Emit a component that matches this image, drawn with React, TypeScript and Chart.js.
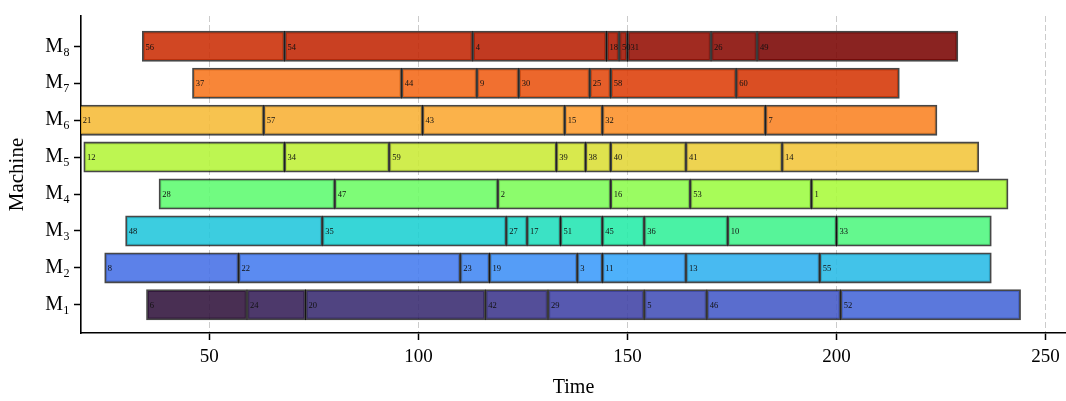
import React, { useEffect, useRef } from "react";
import { Chart, registerables } from "chart.js";

Chart.register(...registerables);

const machineLabels = ["M₁", "M₂", "M₃", "M₄", "M₅", "M₆", "M₇", "M₈"];

const m1Jobs = [6, 24, 20, 42, 29, 5, 46, 52];
const m1Times = [35, 59, 73, 116, 131, 154, 169, 201, 244];
const m2Jobs = [8, 22, 23, 19, 3, 11, 13, 55];
const m2Times = [25, 57, 110, 117, 138, 144, 164, 196, 237];
const m3Jobs = [48, 35, 27, 17, 51, 45, 36, 10, 33];
const m3Times = [30, 77, 121, 126, 134, 144, 154, 174, 200, 237];
const m4Jobs = [28, 47, 2, 16, 53, 1];
const m4Times = [38, 80, 119, 146, 165, 194, 241];
const m5Jobs = [12, 34, 59, 39, 38, 40, 41, 14];
const m5Times = [20, 68, 93, 133, 140, 146, 164, 187, 234];
const m6Jobs = [21, 57, 43, 15, 32, 7];
const m6Times = [19, 63, 101, 135, 144, 183, 224];
const m7Jobs = [37, 44, 9, 30, 25, 58, 60];
const m7Times = [46, 96, 114, 124, 141, 146, 176, 215];
const m8Jobs = [56, 54, 4, 18, 50, 31, 26, 49];
const m8Times = [34, 68, 113, 145, 148, 150, 170, 181, 229];

const xTicks = [50, 100, 150, 200, 250];

const rows: [number[], number[]][] = [
  [m1Jobs, m1Times],
  [m2Jobs, m2Times],
  [m3Jobs, m3Times],
  [m4Jobs, m4Times],
  [m5Jobs, m5Times],
  [m6Jobs, m6Times],
  [m7Jobs, m7Times],
  [m8Jobs, m8Times],
];

// turbo colormap stops
const turboStops = [
  "#30123b", "#4145ab", "#4675ed", "#39a2fc", "#1bcfd4", "#24eca6", "#61fc6c", "#a4fc3b",
  "#d1e834", "#f3c63a", "#fe9b2d", "#f36315", "#d93806", "#b11901", "#7a0402",
];

function hexToRgb(h: string): number[] {
  return [parseInt(h.slice(1, 3), 16), parseInt(h.slice(3, 5), 16), parseInt(h.slice(5, 7), 16)];
}

function turbo(t: number, a: number): string {
  const x = Math.max(0, Math.min(1, t)) * (turboStops.length - 1);
  const i = Math.min(Math.floor(x), turboStops.length - 2);
  const f = x - i;
  const c0 = hexToRgb(turboStops[i]);
  const c1 = hexToRgb(turboStops[i + 1]);
  const c = c0.map((v, k) => Math.round(v + (c1[k] - v) * f));
  return `rgba(${c[0]},${c[1]},${c[2]},${a})`;
}

export default function App() {
  const ref = useRef<HTMLCanvasElement | null>(null);

  useEffect(() => {
    if (!ref.current) return;
    const segs: { x: [number, number]; y: number; job: number }[] = [];
    rows.forEach(([jobs, times], r) => {
      jobs.forEach((job, k) => {
        segs.push({ x: [times[k], times[k + 1]], y: r + 1, job });
      });
    });
    const total = segs.length;
    const colors = segs.map((_, i) => turbo(i / (total - 1), 0.88));

    const labelPlugin = {
      id: "jobLabels",
      afterDatasetsDraw(chart: any) {
        const ctx = chart.ctx;
        const xs = chart.scales.x;
        const ys = chart.scales.y;
        ctx.save();
        ctx.font = '8.5px "Liberation Serif"';
        ctx.fillStyle = "#111";
        ctx.textBaseline = "middle";
        ctx.textAlign = "left";
        segs.forEach((s) => {
          ctx.fillText(String(s.job), xs.getPixelForValue(s.x[0]) + 3, ys.getPixelForValue(s.y) + 1);
        });
        ctx.restore();
      },
    };

    const chart = new Chart(ref.current, {
      type: "bar",
      data: {
        datasets: [
          {
            data: segs as any,
            backgroundColor: colors,
            borderColor: "rgba(0,0,0,0.72)",
            borderWidth: 1.8,
            borderSkipped: false,
            inflateAmount: 0.5,
            barThickness: 30,
          },
        ],
      },
      plugins: [labelPlugin],
      options: {
        indexAxis: "y",
        animation: false,
        responsive: false,
        layout: { padding: { top: 10, right: 0, bottom: 0, left: 0 } },
        plugins: { legend: { display: false }, tooltip: { enabled: false } },
        scales: {
          x: {
            type: "linear",
            min: 19.3,
            max: 254.9,
            offset: false,
            afterBuildTicks: (s: any) => {
              s.ticks = xTicks.map((v) => ({ value: v }));
            },
            afterFit: (s: any) => {
              s.height = 68;
            },
            grid: {
              color: "rgba(190,190,190,0.8)",
              lineWidth: 1,
              offset: false,
              drawOnChartArea: true,
              drawTicks: true,
              tickLength: 7,
              tickColor: "#000",
              tickWidth: 1.5,
            },
            border: { display: true, color: "#000", width: 1.6, dash: [6, 3] },
            ticks: {
              color: "#000",
              padding: 6,
              font: { family: '"Liberation Serif"', size: 19 },
            },
            title: {
              display: true,
              text: "Time",
              color: "#000",
              font: { family: '"Liberation Serif"', size: 20 },
              padding: { top: 0, bottom: 1 },
            },
          },
          y: {
            type: "linear",
            min: 0.237,
            max: 8.82,
            offset: false,
            afterBuildTicks: (s: any) => {
              s.ticks = machineLabels.map((_, i) => ({ value: i + 1 }));
            },
            afterFit: (s: any) => {
              s.width = 81;
            },
            grid: {
              offset: false,
              drawOnChartArea: false,
              drawTicks: true,
              tickLength: 7,
              tickColor: "#000",
              tickWidth: 1.5,
            },
            border: { display: true, color: "#000", width: 1.6 },
            ticks: {
              color: "#000",
              padding: 4,
              font: { family: '"Liberation Serif"', size: 20 },
              callback: (v: any) => machineLabels[Math.round(Number(v)) - 1] ?? "",
            },
            title: {
              display: true,
              text: "Machine",
              color: "#000",
              font: { family: '"Liberation Serif"', size: 21 },
              padding: { top: 5, bottom: 0 },
            },
          },
        },
      },
    });
    return () => chart.destroy();
  }, []);

  return (
    <div style={{ position: "fixed", left: 0, top: 0, width: 1066, height: 401, background: "#fff" }}>
      <canvas ref={ref} width={1066} height={401} />
    </div>
  );
}
